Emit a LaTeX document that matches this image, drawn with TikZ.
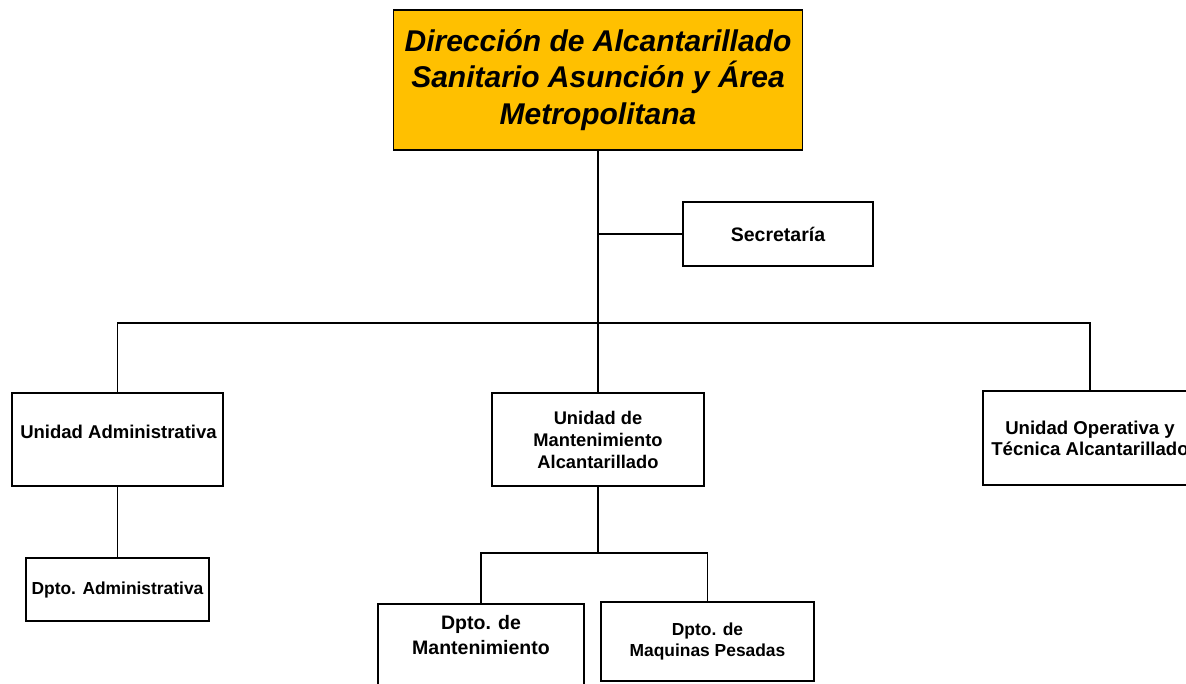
\documentclass[tikz,border=0pt]{standalone}
\usepackage{fontspec}
\setmainfont{Liberation Sans}
\begin{document}
\begin{tikzpicture}[x=1pt,y=-1pt,
  box/.style={draw=black, fill=white, rectangle, inner sep=0pt, line width=1.8pt, align=center,
              font=\bfseries\fontsize{18.3}{22}\selectfont},
  txt/.style={inner sep=0pt, align=center, font=\bfseries\fontsize{18.5}{22}\selectfont},
  conn/.style={draw=black, line width=1.7pt}]
\useasboundingbox (0,0) rectangle (1186,683);
\clip (0,0) rectangle (1186,683);
\fill[white] (0,0) rectangle (1186,683);

\node[box, fill={rgb,255:red,255;green,192;blue,0}, minimum width=409pt, minimum height=140pt,
      font=\bfseries\itshape\fontsize{30}{36.5}\selectfont] (dir) at (598,80)
  {Dirección de Alcantarillado\\Sanitario Asunción y Área\\Metropolitana};

\node[box, minimum width=190pt, minimum height=64pt, font=\bfseries\fontsize{19.5}{23}\selectfont] (sec) at (778,234) {Secretaría};

\node[box, minimum width=211pt, minimum height=93pt] (uadm) at (117.5,439.5) {};
\node[txt] (uadmT) at (118.5,432) {Unidad Administrativa};

\node[box, minimum width=212pt, minimum height=93pt] (mant) at (598,439.5)
  {Unidad de\\Mantenimiento\\Alcantarillado};

\node[box, minimum width=214pt, minimum height=94pt, font=\bfseries\fontsize{18.6}{21}\selectfont] (uop) at (1090,438)
  {Unidad Operativa y\\Técnica Alcantarillado};

\node[box, minimum width=183pt, minimum height=63pt, font=\bfseries\fontsize{17.4}{21}\selectfont] (dadm) at (117.5,589.5)
  {Dpto. Administrativa};

\node[box, minimum width=206pt, minimum height=93pt] (dmant) at (481,650.5) {};
\node[txt, font=\bfseries\fontsize{19.5}{25}\selectfont] (dmantT) at (481,635.5) {Dpto. de\\Mantenimiento};

\node[box, minimum width=213pt, minimum height=79pt, font=\bfseries\fontsize{17.4}{21}\selectfont] (dmaq) at (707.5,641.5)
  {Dpto. de\\Maquinas Pesadas};

\coordinate (bus) at (598,323);
\coordinate (bus2) at (598,553);

\draw[conn] (dir.south) -- (mant.north);
\draw[conn] (dir.south |- sec.west) -- (sec.west);
\draw[conn] (uadm.north) |- (bus) -| (uop.north);
\draw[conn] (uadm.south) -- (dadm.north);
\draw[conn] (mant.south) -- (bus2);
\draw[conn] (dmant.north) |- (bus2) -| (dmaq.north);
\end{tikzpicture}
\end{document}
